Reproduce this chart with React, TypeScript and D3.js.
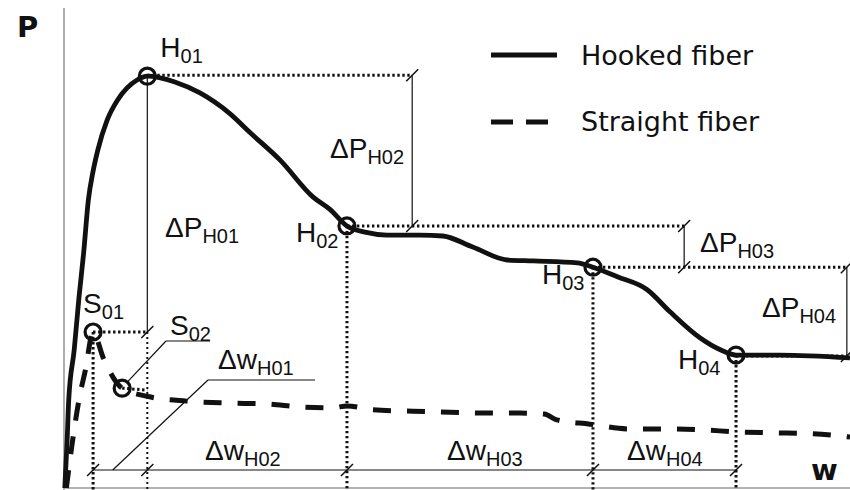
import React from "react";
import * as d3 from "d3";

// Pull-out response: load P against slip w (arbitrary units)
const HOOKED_W = [0.01, 0.04, 0.06, 0.13, 0.19, 0.25, 0.31, 0.37, 0.43, 0.55, 0.68, 0.80, 0.93, 1.06, 1.41, 1.73, 2.11, 2.37, 2.75, 3.17, 3.38, 3.60, 3.83, 4.11, 4.53, 4.82, 5.20, 5.64, 5.97, 6.53, 6.73, 7.04, 7.42, 7.71, 8.09, 8.35, 8.55, 9.11, 10.0];
const HOOKED_P = [0, 10.0, 18.3, 28.8, 39.6, 49.0, 60.0, 66.0, 70.4, 76.7, 80.8, 83.3, 85.0, 85.8, 84.6, 82.3, 78.0, 74.0, 68.3, 60.6, 58.1, 54.6, 53.3, 52.7, 52.7, 52.5, 50.2, 47.5, 47.3, 46.9, 46.0, 44.0, 41.3, 36.7, 31.3, 28.8, 27.7, 27.7, 27.1];

const STRAIGHT_W = [0.03, 0.10, 0.20, 0.27, 0.37, 0.50, 0.74, 1.09, 1.56, 2.07, 2.58, 3.00, 3.42, 3.60, 3.93, 4.44, 4.91, 5.38, 5.80, 6.11, 6.27, 6.69, 7.20, 7.67, 8.13, 8.55, 9.02, 9.53, 10.0];
const STRAIGHT_P = [0, 8.8, 19.2, 24.4, 32.5, 27.1, 20.8, 19.0, 18.1, 17.7, 17.5, 16.9, 16.7, 17.1, 16.3, 16.0, 15.8, 15.6, 15.6, 15.4, 14.2, 13.3, 12.3, 12.3, 12.1, 11.7, 11.5, 11.3, 10.6];

// Characteristic points
const H_POINTS = [
  { name: "01", w: 1.06, p: 85.8 },
  { name: "02", w: 3.60, p: 54.6 },
  { name: "03", w: 6.73, p: 46.0 },
  { name: "04", w: 8.55, p: 27.7 },
];
const S_POINTS = [
  { name: "01", w: 0.37, p: 32.5 },
  { name: "02", w: 0.74, p: 20.8 },
];

// Where the ΔP dimension lines stand, and the level of the Δw dimension line
const DP_LINE_W = [4.43, 7.89, 9.96];
const DW_LINE_P = 3.75;

const LEGEND = ["Hooked fiber", "Straight fiber"];

const WIDTH = 850;
const HEIGHT = 490;
const LABEL_FONT = "'Liberation Sans Narrow', 'Liberation Sans', Arial, sans-serif";
const INK = "#111";

const x = d3.scaleLinear().domain([0, 10]).range([64, 850]);
const y = d3.scaleLinear().domain([0, 100]).range([488, 8]);

const hookedLine = d3
  .line<number>()
  .x((_, i) => x(HOOKED_W[i]))
  .y((d) => y(d))
  .curve(d3.curveMonotoneX);

const straightLine = d3
  .line<number>()
  .x((_, i) => x(STRAIGHT_W[i]))
  .y((d) => y(d))
  .curve(d3.curveMonotoneX);

const dotted = { stroke: INK, strokeWidth: 3, strokeDasharray: "2.4 2.6", fill: "none" };
const thin = { stroke: INK, strokeWidth: 1.2, fill: "none" };

function Slash({ cx, cy }: { cx: number; cy: number }) {
  return <line x1={cx - 6} y1={cy + 6} x2={cx + 6} y2={cy - 6} stroke={INK} strokeWidth={1.5} />;
}

function Label({
  x: lx,
  y: ly,
  main,
  sub,
  size = 28,
  subSize = 20,
}: {
  x: number;
  y: number;
  main: string;
  sub: string;
  size?: number;
  subSize?: number;
}) {
  return (
    <text x={lx} y={ly} fontFamily={LABEL_FONT} fontSize={size} fill={INK}>
      {main}
      <tspan fontSize={subSize} dy={6}>
        {sub}
      </tspan>
    </text>
  );
}

export default function App() {
  const [h1, h2, h3, h4] = H_POINTS;
  const [s1, s2] = S_POINTS;
  const y0 = y(0);
  const yDw = y(DW_LINE_P);

  return (
    <svg
      width={WIDTH}
      height={HEIGHT}
      style={{ position: "absolute", left: 0, top: 0, background: "#fff" }}
    >
      {/* axes */}
      <line x1={x(0)} y1={8} x2={x(0)} y2={HEIGHT} stroke="#9a9a9a" strokeWidth={1.6} />
      <line x1={x(0)} y1={y0} x2={WIDTH} y2={y0} stroke="#9a9a9a" strokeWidth={1.6} />
      <text x={17} y={37} fontFamily="'DejaVu Sans', sans-serif" fontWeight="bold" fontSize={29} fill={INK}>
        P
      </text>
      <text x={811} y={480} fontFamily="'DejaVu Sans', sans-serif" fontWeight="bold" fontSize={29} fill={INK}>
        w
      </text>

      {/* horizontal reference levels */}
      <line x1={x(h1.w)} y1={y(h1.p) - 1} x2={x(DP_LINE_W[0])} y2={y(h1.p) - 1} {...dotted} />
      <line x1={x(h2.w)} y1={y(h2.p)} x2={x(DP_LINE_W[1])} y2={y(h2.p)} {...dotted} />
      <line x1={x(h3.w)} y1={y(h3.p)} x2={x(DP_LINE_W[2])} y2={y(h3.p)} {...dotted} />
      <line x1={x(h4.w)} y1={y(h4.p) + 1} x2={x(DP_LINE_W[2])} y2={y(h4.p) + 1} {...dotted} />
      <line x1={x(s1.w)} y1={y(s1.p)} x2={x(h1.w)} y2={y(s1.p)} {...dotted} />
      <line x1={x(s2.w)} y1={y(s2.p)} x2={x(h1.w)} y2={y(s2.p) + 2} {...dotted} />

      {/* vertical reference lines down to the w axis */}
      {[s1, h2, h3, h4].map((pt) => (
        <line key={"v" + pt.name + pt.w} x1={x(pt.w)} y1={y(pt.p)} x2={x(pt.w)} y2={HEIGHT} {...dotted} />
      ))}
      <line x1={x(h1.w)} y1={y(h1.p)} x2={x(h1.w)} y2={y(s1.p)} {...thin} />
      <line x1={x(h1.w)} y1={y(s1.p)} x2={x(h1.w)} y2={HEIGHT} stroke={INK} strokeWidth={2} strokeDasharray="2 3" />

      {/* ΔP dimension lines */}
      <line x1={x(DP_LINE_W[0])} y1={y(h1.p) - 1} x2={x(DP_LINE_W[0])} y2={y(h2.p)} {...thin} />
      <line x1={x(DP_LINE_W[1])} y1={y(h2.p)} x2={x(DP_LINE_W[1])} y2={y(h3.p)} {...thin} />
      <line x1={x(DP_LINE_W[2])} y1={y(h3.p)} x2={x(DP_LINE_W[2])} y2={y(h4.p) + 1} {...thin} />
      <Slash cx={x(DP_LINE_W[0])} cy={y(h1.p) - 1} />
      <Slash cx={x(DP_LINE_W[0])} cy={y(h2.p)} />
      <Slash cx={x(DP_LINE_W[1])} cy={y(h2.p)} />
      <Slash cx={x(DP_LINE_W[1])} cy={y(h3.p)} />
      <Slash cx={x(DP_LINE_W[2])} cy={y(h3.p)} />
      <Slash cx={x(DP_LINE_W[2])} cy={y(h4.p) + 1} />
      <Slash cx={x(h1.w)} cy={y(s1.p)} />

      {/* Δw dimension line */}
      <line x1={x(s1.w)} y1={yDw} x2={x(h4.w)} y2={yDw} {...thin} />
      {[s1, h1, h2, h3, h4].map((pt) => (
        <Slash key={"s" + pt.name + pt.w} cx={x(pt.w)} cy={yDw} />
      ))}

      {/* curves */}
      <path d={straightLine(STRAIGHT_P) ?? ""} fill="none" stroke={INK} strokeWidth={5} strokeDasharray="18 16" />
      <path d={hookedLine(HOOKED_P) ?? ""} fill="none" stroke={INK} strokeWidth={4.8} strokeLinejoin="round" />

      {/* markers */}
      {[...H_POINTS, ...S_POINTS].map((pt) => (
        <circle key={"c" + pt.name + pt.w} cx={x(pt.w)} cy={y(pt.p)} r={8} fill="none" stroke={INK} strokeWidth={3.2} />
      ))}

      {/* leaders for S02 and Δw_H01 */}
      <line x1={x(s2.w) + 6} y1={y(s2.p) - 7} x2={166} y2={341} {...thin} />
      <line x1={166} y1={341} x2={210} y2={341} {...thin} />
      <line x1={x(0.62)} y1={yDw} x2={208} y2={380} {...thin} />
      <line x1={208} y1={380} x2={315} y2={380} {...thin} />

      {/* point labels */}
      <Label x={x(h1.w) + 13} y={y(h1.p) - 19} main="H" sub="01" />
      <Label x={x(h2.w) - 51} y={y(h2.p) + 16} main="H" sub="02" />
      <Label x={x(h3.w) - 51} y={y(h3.p) + 17} main="H" sub="03" />
      <Label x={x(h4.w) - 58} y={y(h4.p) + 14} main="H" sub="04" />
      <Label x={x(s1.w) - 10} y={y(s1.p) - 19} main="S" sub="01" />
      <Label x={170} y={335} main="S" sub="02" />

      {/* dimension labels */}
      <Label x={165} y={237} main="ΔP" sub="H01" />
      <Label x={330} y={158} main="ΔP" sub="H02" />
      <Label x={700} y={252} main="ΔP" sub="H03" />
      <Label x={762} y={317} main="ΔP" sub="H04" />
      <Label x={218} y={369} main="Δw" sub="H01" />
      <Label x={205} y={460} main="Δw" sub="H02" />
      <Label x={447} y={460} main="Δw" sub="H03" />
      <Label x={627} y={460} main="Δw" sub="H04" />

      {/* legend */}
      <line x1={491} y1={55} x2={557} y2={55} stroke={INK} strokeWidth={5} />
      <line x1={491} y1={122} x2={557} y2={122} stroke={INK} strokeWidth={5} strokeDasharray="22 13" />
      <text x={581} y={65} fontFamily="'DejaVu Sans', sans-serif" fontSize={27} fill={INK}>
        {LEGEND[0]}
      </text>
      <text x={581} y={131} fontFamily="'DejaVu Sans', sans-serif" fontSize={27} fill={INK}>
        {LEGEND[1]}
      </text>
    </svg>
  );
}
